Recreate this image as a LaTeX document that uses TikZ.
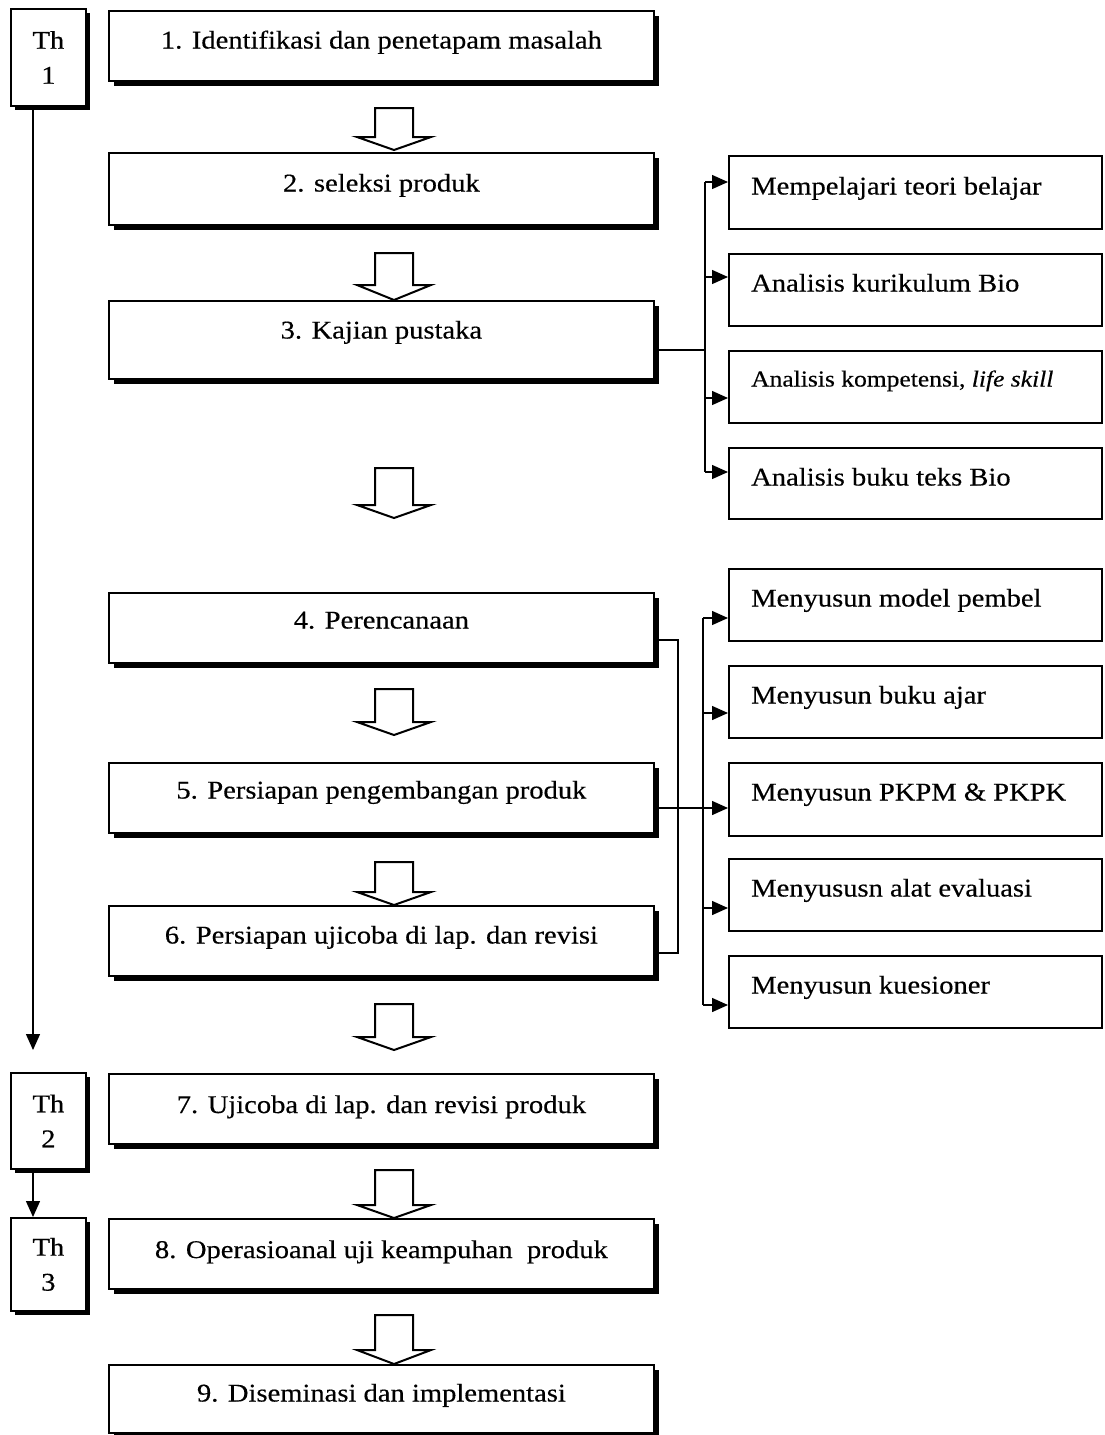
\documentclass[tikz,border=0pt]{standalone}
\usepackage{fontspec}
\setmainfont{Liberation Serif}[FakeStretch=1.12,FakeBold=0.4]
\usetikzlibrary{arrows.meta,shadows}
\newcommand\myHollowArrow[4]{%
  \draw[hollow] (#1-19,#2) -- (#1+19,#2) -- (#1+19,#3) -- (#1+37,#3) -- (#1,#4) -- (#1-37,#3) -- (#1-19,#3) -- cycle;}
\begin{document}
\begin{tikzpicture}[x=1pt,y=-1pt,
  box/.style={draw, line width=1.8pt, fill=white, inner sep=0pt, anchor=north west},
  mainbox/.style={box, minimum width=545pt, drop shadow={shadow xshift=5pt, shadow yshift=-5pt, fill=black, opacity=1}},
  thbox/.style={box, minimum width=75pt, align=center, font=\fontsize{25.5pt}{35pt}\selectfont,
     drop shadow={shadow xshift=4.5pt, shadow yshift=-4.5pt, fill=black, opacity=1}},
  sidebox/.style={box, minimum width=373pt, minimum height=72pt},
  arr/.style={line width=1.4pt, -{Triangle[length=16pt,width=14pt]}},
  conn/.style={line width=1.4pt},
  hollow/.style={line width=2pt, fill=white, line join=miter},
  lbl/.style={inner sep=0pt, anchor=base, font=\fontsize{25.5pt}{35pt}\selectfont},
  lbll/.style={inner sep=0pt, anchor=base west, font=\fontsize{25.5pt}{35pt}\selectfont}
]
\useasboundingbox[fill=white] (0,0) rectangle (1104,1435);

% ---------- Th boxes ----------
\node[thbox, minimum height=97pt] (th1) at (10,8) {Th\\1};
\node[thbox, minimum height=96pt] (th2) at (10,1072) {Th\\2};
\node[thbox, minimum height=93pt] (th3) at (10,1217) {Th\\3};

% ---------- main boxes ----------
\node[mainbox, minimum height=70pt] (b1) at (108,10) {};
\node[mainbox, minimum height=72pt] (b2) at (108,152) {};
\node[mainbox, minimum height=78pt] (b3) at (108,300) {};
\node[mainbox, minimum height=70pt] (b4) at (108,592) {};
\node[mainbox, minimum height=70pt] (b5) at (108,762) {};
\node[mainbox, minimum height=70pt] (b6) at (108,905) {};
\node[mainbox, minimum height=70pt] (b7) at (108,1073) {};
\node[mainbox, minimum height=70pt] (b8) at (108,1218) {};
\node[mainbox, minimum height=68pt] (b9) at (108,1364) {};

\node[lbl] (t1) at ([yshift=-38.5pt]b1.north) {1. Identifikasi dan penetapam masalah};
\node[lbl] (t2) at ([yshift=-39.5pt]b2.north) {2. seleksi produk};
\node[lbl] (t3) at ([yshift=-38.5pt]b3.north) {3. Kajian pustaka};
\node[lbl] (t4) at ([yshift=-36.5pt]b4.north) {4. Perencanaan};
\node[lbl] (t5) at ([yshift=-36.5pt]b5.north) {5. Persiapan pengembangan produk};
\node[lbl] (t6) at ([yshift=-38.5pt]b6.north) {6. Persiapan ujicoba di lap. dan revisi};
\node[lbl] (t7) at ([yshift=-40pt]b7.north) {7. Ujicoba di lap. dan revisi produk};
\node[lbl] (t8) at ([yshift=-40pt]b8.north) {8. Operasioanal uji keampuhan\ \ produk};
\node[lbl] (t9) at ([yshift=-37.5pt]b9.north) {9. Diseminasi dan implementasi};

% ---------- side boxes, group 1 ----------
\node[sidebox, minimum height=73pt] (r1) at (728,155) {};
\node[sidebox] (r2) at (728,253) {};
\node[sidebox] (r3) at (728,350) {};
\node[sidebox, minimum height=71pt] (r4) at (728,447) {};
\node[lbll] (rt1) at ([xshift=23pt,yshift=-39.5pt]r1.north west) {Mempelajari teori belajar};
\node[lbll] (rt2) at ([xshift=23pt,yshift=-38.5pt]r2.north west) {Analisis kurikulum Bio};
\node[lbll, font=\fontsize{22.8pt}{30pt}\selectfont] (rt3) at ([xshift=23pt,yshift=-36.5pt]r3.north west) {Analisis kompetensi, \textit{life skill}};
\node[lbll] (rt4) at ([xshift=23pt,yshift=-38.5pt]r4.north west) {Analisis buku teks Bio};

% ---------- side boxes, group 2 ----------
\node[sidebox] (s1) at (728,568) {};
\node[sidebox] (s2) at (728,665) {};
\node[sidebox, minimum height=73pt] (s3) at (728,762) {};
\node[sidebox] (s4) at (728,858) {};
\node[sidebox] (s5) at (728,955) {};
\node[lbll] (st1) at ([xshift=23pt,yshift=-38.5pt]s1.north west) {Menyusun model pembel};
\node[lbll] (st2) at ([xshift=23pt,yshift=-38.5pt]s2.north west) {Menyusun buku ajar};
\node[lbll] (st3) at ([xshift=23pt,yshift=-38.5pt]s3.north west) {Menyusun PKPM \& PKPK};
\node[lbll] (st4) at ([xshift=23pt,yshift=-38.5pt]s4.north west) {Menyususn alat evaluasi};
\node[lbll] (st5) at ([xshift=23pt,yshift=-38.5pt]s5.north west) {Menyusun kuesioner};

% ---------- hollow flow arrows ----------
\myHollowArrow{394}{108}{137}{150}
\myHollowArrow{394}{253}{285}{300}
\myHollowArrow{394}{468}{505}{518}
\myHollowArrow{394}{689}{722}{735}
\myHollowArrow{394}{862}{892}{905}
\myHollowArrow{394}{1004}{1037}{1050}
\myHollowArrow{394}{1170}{1205}{1218}
\myHollowArrow{394}{1315}{1350}{1364}

% ---------- year line ----------
\coordinate (yend) at (33,1050);
\draw[arr] (th1.south -| yend) -- (yend);
\draw[arr] (th2.south -| yend) -- (th3.north -| yend);

% ---------- group 1 connectors ----------
\coordinate (bus1) at (705,350);
\draw[conn] (b3.east |- bus1) -- (bus1);
\draw[conn] (705,182) -- (705,472);
\draw[arr] (705,182) -- (r1.west |- 705,182);
\draw[arr] (705,277) -- (r2.west |- 705,277);
\draw[arr] (705,398) -- (r3.west |- 705,398);
\draw[arr] (705,472) -- (r4.west |- 705,472);

% ---------- group 2 connectors ----------
\draw[conn] (b4.east |- 678,640) -- (678,640) -- (678,953) -- (b6.east |- 678,953);
\draw[arr] (b5.east |- 703,808) -- (s3.west |- 703,808);
\draw[conn] (703,618) -- (703,1005);
\draw[arr] (703,618) -- (s1.west |- 703,618);
\draw[arr] (703,713) -- (s2.west |- 703,713);
\draw[arr] (703,908) -- (s4.west |- 703,908);
\draw[arr] (703,1005) -- (s5.west |- 703,1005);
\end{tikzpicture}
\end{document}
